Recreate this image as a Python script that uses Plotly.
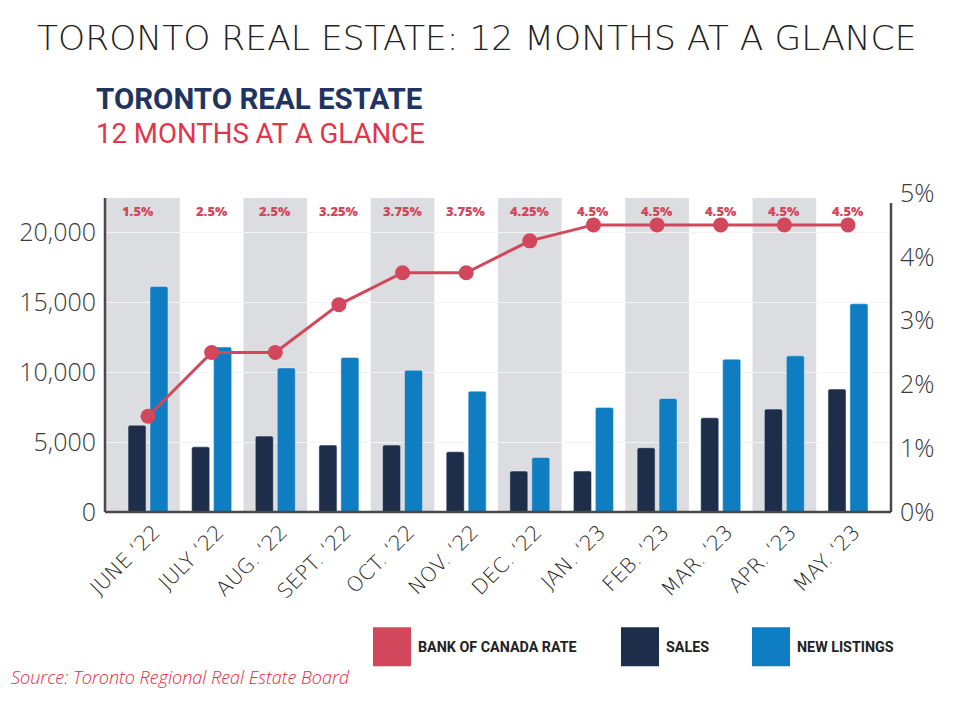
import plotly.graph_objects as go

months = ["JUNE ‘22", "JULY ‘22", "AUG. ‘22", "SEPT. ‘22", "OCT. ‘22", "NOV. ‘22",
          "DEC. ‘22", "JAN. ‘23", "FEB. ‘23", "MAR. ‘23", "APR. ‘23", "MAY. ‘23"]
sales = [6210, 4660, 5430, 4790, 4790, 4310, 2930, 2930, 4600, 6740, 7360, 8790]
new_listings = [16140, 11800, 10310, 11050, 10140, 8640, 3900, 7480, 8120, 10930, 11170, 14900]
boc_rate = [1.5, 2.5, 2.5, 3.25, 3.75, 3.75, 4.25, 4.5, 4.5, 4.5, 4.5, 4.5]
rate_labels = ["1.5%", "2.5%", "2.5%", "3.25%", "3.75%", "3.75%", "4.25%", "4.5%", "4.5%", "4.5%", "4.5%", "4.5%"]
left_ticks = [0, 5000, 10000, 15000, 20000]
right_ticks = [0, 1, 2, 3, 4, 5]

RED = "#d3475c"
NAVY = "#1e2d4a"
BLUE = "#0f7dc2"
GRAY_BAND = "#dcdde0"
AXIS = "#4a4a4a"
TICKFONT = "Open Sans"

# page body has an 8px margin; lay out in page pixels and compensate
OFF = 8
W, H = 968 - OFF, 718 - OFF
L = 105 - OFF
R = W - (891 - OFF)
T = 193 - OFF
B = H - (512.5 - OFF)
pw = W - L - R
ph = H - T - B


def px(xp):
    return (xp - OFF - L) / pw


def py(yp):
    return (H - B - (yp - OFF)) / ph


x = list(range(len(months)))
xr = [-0.676, 11.676]
cat_px = pw / (xr[1] - xr[0])
lab_shift = 6 / cat_px

fig = go.Figure()

fig.add_trace(go.Bar(x=x, y=sales, name="SALES", marker_color=NAVY,
                     width=0.283, offset=-0.314, yaxis="y", showlegend=False))
fig.add_trace(go.Bar(x=x, y=new_listings, name="NEW LISTINGS", marker_color=BLUE,
                     width=0.283, offset=0.031, yaxis="y", showlegend=False))
fig.add_trace(go.Scatter(x=x, y=boc_rate, name="BANK OF CANADA RATE", yaxis="y2",
                         mode="lines+markers", line=dict(color=RED, width=3),
                         marker=dict(color=RED, size=15), showlegend=False))
# carrier for the (slightly shifted) month label axis
fig.add_trace(go.Scatter(x=x, y=[None] * len(x), xaxis="x2", yaxis="y", mode="markers",
                         showlegend=False, hoverinfo="skip"))

shapes = []
for i in range(0, 12, 2):
    x0 = xr[0] if i == 0 else i - 0.5
    shapes.append(dict(type="rect", xref="x", yref="y domain", x0=x0, x1=i + 0.5,
                       y0=0, y1=0.984, fillcolor=GRAY_BAND, line_width=0, layer="below"))
# axis lines
shapes.append(dict(type="line", xref="paper", yref="y domain", x0=0, x1=0, y0=0, y1=0.984,
                   line=dict(color=AXIS, width=2.5)))
shapes.append(dict(type="line", xref="paper", yref="y domain", x0=1, x1=1, y0=0, y1=0.969,
                   line=dict(color=AXIS, width=2.5)))
shapes.append(dict(type="line", xref="paper", yref="y domain", x0=0, x1=1, y0=0, y1=0,
                   line=dict(color=AXIS, width=2.5)))

legend_items = [("BANK OF CANADA RATE", RED, 373), ("SALES", NAVY, 621), ("NEW LISTINGS", BLUE, 752)]
annotations = []
for label, color, x0 in legend_items:
    shapes.append(dict(type="rect", xref="paper", yref="paper",
                       x0=px(x0), x1=px(x0 + 38), y0=py(667), y1=py(628),
                       fillcolor=color, line_width=0))
    annotations.append(dict(text=label, xref="paper", yref="paper",
                            x=px(x0 + 43), y=py(648),
                            xanchor="left", yanchor="middle", showarrow=False,
                            font=dict(family="Roboto", size=14.3, color="#222222", weight=700)))

for i, t in enumerate(rate_labels):
    annotations.append(dict(text=t, x=i, xref="x", y=py(211), yref="paper",
                            showarrow=False, xanchor="center", yanchor="middle",
                            xshift=-10 if i == 0 else 0,
                            font=dict(family="Open Sans", size=13, color=RED, weight=800)))

annotations.append(dict(text="TORONTO REAL ESTATE: 12 MONTHS AT A GLANCE", xref="paper", yref="paper",
                        x=px(476), y=py(38), xanchor="center", yanchor="middle",
                        showarrow=False, font=dict(family="DejaVu Sans", size=34.5, color="#222222", weight=200)))
annotations.append(dict(text="TORONTO REAL ESTATE", xref="paper", yref="paper",
                        x=px(94), y=py(99), xanchor="left", yanchor="middle",
                        showarrow=False, font=dict(family="Roboto", size=29.5, color="#1f3461", weight=700)))
annotations.append(dict(text="12 MONTHS AT A GLANCE", xref="paper", yref="paper",
                        x=px(94), y=py(133), xanchor="left", yanchor="middle",
                        showarrow=False, font=dict(family="Roboto", size=27.6, color="#e2344b", weight=400)))
annotations.append(dict(text="<i>Source: Toronto Regional Real Estate Board</i>", xref="paper", yref="paper",
                        x=px(9), y=py(678), xanchor="left", yanchor="middle",
                        showarrow=False, font=dict(family="Open Sans", size=18, color="#e8283c", weight=300)))

fig.update_layout(
    width=W, height=H,
    margin=dict(l=L, r=R, t=T, b=B, pad=0),
    paper_bgcolor="white", plot_bgcolor="white",
    barmode="overlay",
    barcornerradius=2,
    xaxis=dict(range=xr, showticklabels=False,
               showgrid=False, zeroline=False, showline=False, ticks=""),
    xaxis2=dict(range=[xr[0] - lab_shift, xr[1] - lab_shift], overlaying="x", side="bottom",
                anchor="y", tickmode="array", tickvals=x, ticktext=months, tickangle=-45,
                showgrid=False, zeroline=False, showline=False, ticks="", ticklabelstandoff=3,
                tickfont=dict(family="DejaVu Sans", size=20.5, color="#262626", weight=200)),
    yaxis=dict(range=[0, 22820], tickmode="array", tickvals=left_ticks,
               ticktext=[f"{v:,}" for v in left_ticks], showgrid=True, gridcolor="#f4f4f4",
               zeroline=False, showline=False, ticks="", ticklabelstandoff=8,
               tickfont=dict(family=TICKFONT, size=25, color="#3a3a3a", weight=300)),
    yaxis2=dict(range=[0, 5], overlaying="y", side="right", tickmode="array",
                tickvals=right_ticks, ticktext=[f"{v}%" for v in right_ticks],
                showgrid=False, zeroline=False, showline=False, ticks="", ticklabelstandoff=8,
                tickfont=dict(family=TICKFONT, size=25, color="#3a3a3a", weight=300)),
    shapes=shapes,
    annotations=annotations,
    showlegend=False,
)

fig.write_html("out.html")
